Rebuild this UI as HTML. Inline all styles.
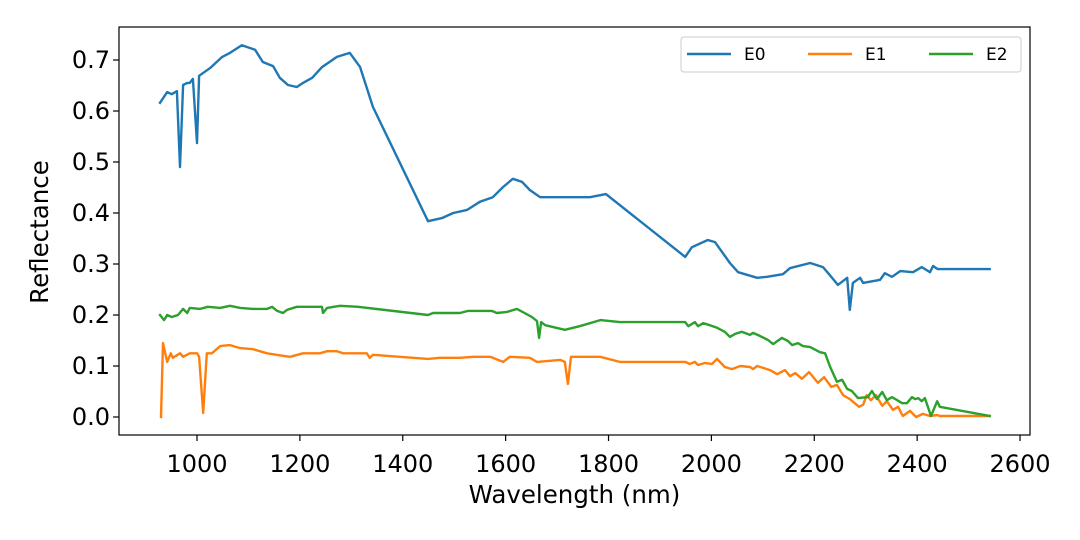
<!DOCTYPE html>
<html><head><meta charset="utf-8"><style>
html,body{margin:0;padding:0;background:#fff;}
svg{display:block;font-family:"DejaVu Sans","Liberation Sans",sans-serif;}
</style></head><body>
<svg id="chart" width="1080" height="540" viewBox="0 0 1080 540"></svg>
<script>
const xTicks=[1000,1200,1400,1600,1800,2000,2200,2400,2600];
const yTicks=[0.0,0.1,0.2,0.3,0.4,0.5,0.6,0.7];
const seriesNames=["E0","E1","E2"];
const e0Wl=[928,942,951,961,967,973,981,986,992,1000,1004,1025,1049,1064,1087,1113,1128,1148,1161,1177,1194,1206,1224,1243,1272,1297,1317,1342,1449,1476,1498,1525,1550,1575,1595,1614,1632,1647,1667,1706,1764,1795,1949,1962,1993,2007,2036,2052,2089,2108,2139,2153,2192,2217,2227,2246,2264,2269,2275,2289,2295,2328,2337,2351,2367,2392,2409,2425,2431,2440,2541];
const e0Val=[0.616,0.637,0.633,0.639,0.490,0.651,0.655,0.655,0.663,0.537,0.669,0.684,0.706,0.714,0.729,0.720,0.696,0.688,0.665,0.651,0.647,0.655,0.665,0.686,0.706,0.714,0.686,0.608,0.384,0.390,0.400,0.406,0.422,0.431,0.451,0.467,0.461,0.445,0.431,0.431,0.431,0.437,0.314,0.333,0.347,0.343,0.302,0.284,0.273,0.275,0.280,0.292,0.302,0.294,0.282,0.259,0.273,0.210,0.263,0.273,0.263,0.269,0.282,0.275,0.286,0.284,0.294,0.284,0.296,0.290,0.290];
const e1Wl=[930,934,942,949,953,967,973,986,1000,1004,1012,1019,1029,1045,1064,1084,1109,1136,1167,1181,1206,1226,1239,1253,1272,1284,1311,1330,1336,1342,1449,1472,1511,1537,1570,1595,1608,1647,1661,1706,1715,1721,1727,1784,1822,1949,1958,1968,1974,1988,2001,2011,2026,2040,2056,2075,2081,2089,2114,2128,2143,2153,2163,2176,2190,2207,2219,2233,2244,2256,2269,2287,2295,2302,2310,2320,2332,2341,2353,2363,2372,2386,2398,2411,2425,2439,2444,2541];
const e1Val=[0.000,0.145,0.108,0.125,0.116,0.125,0.118,0.125,0.125,0.118,0.008,0.125,0.125,0.139,0.141,0.135,0.133,0.125,0.120,0.118,0.125,0.125,0.125,0.129,0.129,0.125,0.125,0.125,0.116,0.122,0.114,0.116,0.116,0.118,0.118,0.108,0.118,0.116,0.108,0.112,0.108,0.065,0.118,0.118,0.108,0.108,0.104,0.108,0.102,0.106,0.104,0.114,0.098,0.094,0.100,0.098,0.094,0.100,0.092,0.084,0.092,0.080,0.086,0.075,0.088,0.067,0.078,0.059,0.063,0.043,0.035,0.020,0.024,0.043,0.033,0.043,0.022,0.031,0.014,0.020,0.002,0.012,0.000,0.006,0.002,0.004,0.002,0.002];
const e2Wl=[928,936,942,951,963,973,981,986,1006,1021,1045,1064,1084,1109,1136,1146,1156,1167,1175,1194,1214,1243,1245,1253,1278,1313,1449,1459,1511,1527,1573,1583,1603,1622,1651,1661,1665,1669,1677,1715,1744,1784,1822,1949,1955,1968,1974,1984,1997,2011,2026,2036,2046,2059,2075,2081,2094,2110,2120,2137,2149,2157,2168,2178,2192,2211,2221,2231,2244,2254,2264,2273,2285,2304,2312,2322,2332,2341,2351,2371,2380,2390,2396,2402,2409,2415,2427,2439,2444,2541];
const e2Val=[0.200,0.190,0.200,0.196,0.200,0.212,0.204,0.214,0.212,0.216,0.214,0.218,0.214,0.212,0.212,0.216,0.208,0.204,0.210,0.216,0.216,0.216,0.204,0.214,0.218,0.216,0.200,0.204,0.204,0.208,0.208,0.204,0.206,0.212,0.196,0.188,0.155,0.186,0.180,0.171,0.178,0.190,0.186,0.186,0.178,0.186,0.178,0.184,0.180,0.175,0.167,0.157,0.163,0.167,0.161,0.165,0.159,0.151,0.143,0.155,0.149,0.141,0.145,0.139,0.137,0.127,0.125,0.098,0.069,0.073,0.055,0.051,0.037,0.039,0.051,0.035,0.049,0.033,0.039,0.027,0.027,0.039,0.035,0.037,0.031,0.037,0.002,0.031,0.020,0.002];

const NS="http://www.w3.org/2000/svg";
const svg=document.getElementById('chart');
const L=119,R=1030,T=27,B=435;
function xs(w){return 197+(w-1000)*0.5144;}
function ys(v){return 417-v*510;}
function mk(tag,attrs,parent){const e=document.createElementNS(NS,tag);for(const k in attrs)e.setAttribute(k,attrs[k]);(parent||svg).appendChild(e);return e;}

const colors=["#1f77b4","#ff7f0e","#2ca02c"];
const wls=[e0Wl,e1Wl,e2Wl], vals=[e0Val,e1Val,e2Val];
for(let s=0;s<3;s++){
  const d=wls[s].map((w,i)=>(i?'L':'M')+xs(w).toFixed(1)+' '+ys(vals[s][i]).toFixed(1)).join(' ');
  const p=mk('path',{d:d,fill:'none',stroke:colors[s],'stroke-width':2.4,'stroke-linejoin':'round','stroke-linecap':'square'});
  
  
}
const frame=mk('rect',{x:L,y:T,width:R-L,height:B-T,fill:'none',stroke:'#000','stroke-width':1.2});



xTicks.forEach(t=>{
  const x=xs(t);
  const tk=mk('line',{x1:x,x2:x,y1:B,y2:B+6,stroke:'#000','stroke-width':1.2});
  
  
  const tx=mk('text',{x:x,y:472,'text-anchor':'middle','font-size':24,fill:'#000'});
  tx.textContent=t;
  
  
});
yTicks.forEach(t=>{
  const y=ys(t);
  const tk=mk('line',{x1:L-6,x2:L,y1:y,y2:y,stroke:'#000','stroke-width':1.2});
  
  
  const tx=mk('text',{x:L-9,y:y+8,'text-anchor':'end','font-size':24,fill:'#000'});
  tx.textContent=t.toFixed(1);
  
  
});
const xt=mk('text',{x:(L+R)/2,y:503,'text-anchor':'middle','font-size':24.5,fill:'#000'});
xt.textContent='Wavelength (nm)';


const yt=mk('text',{x:0,y:0,'text-anchor':'middle','font-size':24.5,fill:'#000',transform:'translate(48,232) rotate(-90)'});
yt.textContent='Reflectance';



const lg=mk('g',{});


mk('rect',{x:681,y:37,width:340,height:35,rx:3,fill:'#fff','fill-opacity':0.8,stroke:'#ccc','stroke-width':1},lg);
const lx=[687,808,929];
for(let s=0;s<3;s++){
  const ln=mk('line',{x1:lx[s],x2:lx[s]+44,y1:54,y2:54,stroke:colors[s],'stroke-width':2.4},lg);
  
  
  const tx=mk('text',{x:lx[s]+57,y:60,'font-size':17,fill:'#000'},lg);
  tx.textContent=seriesNames[s];
  
  
}
</script>
</body></html>
